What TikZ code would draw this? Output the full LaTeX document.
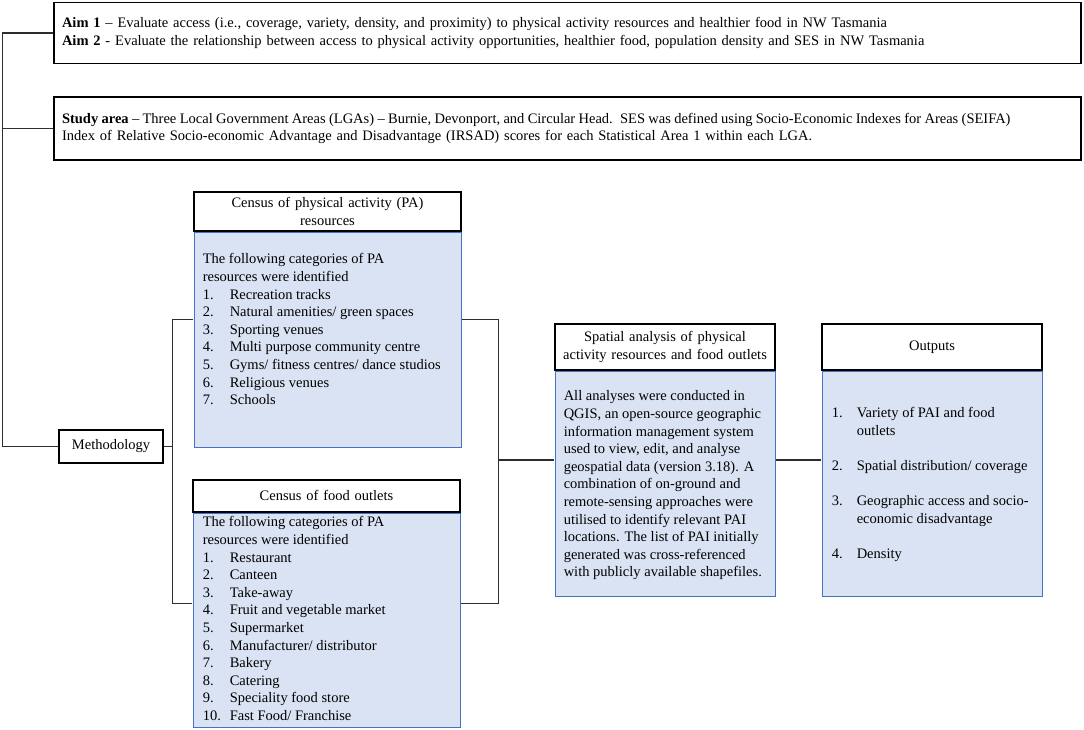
\documentclass[tikz,border=0pt]{standalone}
\usepackage{fontspec}
\setmainfont{Liberation Serif}
\usetikzlibrary{positioning,calc}

\definecolor{bodyfill}{RGB}{218,227,243}
\definecolor{bodyline}{RGB}{68,114,196}
\definecolor{linkgray}{RGB}{45,45,45}

\newcommand*{\itm}[2]{\makebox[27pt][l]{#1}#2}
\newcommand*{\oitm}[2]{\makebox[25pt][l]{#1}#2}

\begin{document}
\begin{tikzpicture}
[
	x=1pt,
	y=-1pt,
	every node/.style={font=\fontsize{14.5}{17.6}\selectfont},
	widebox/.style={draw,line width=1.3pt,fill=white,align=left,text width=1011pt,inner xsep=8pt},
	headbox/.style={draw,line width=1.3pt,fill=white,align=center,inner xsep=4pt},
	bodybox/.style={draw=bodyline,fill=bodyfill,line width=0.9pt},
	bodytext/.style={align=left,inner sep=0pt,anchor=north west},
	methbox/.style={draw,line width=1.3pt,fill=white,minimum width=104pt,minimum height=33pt,inner sep=2pt},
	link/.style={line width=1.3pt,draw=linkgray}
]

	\useasboundingbox (0,0) rectangle (1084,730);

	% aims and study area
	\node[widebox,minimum height=61pt] (aims) at (567.5,33)
	  {\textbf{Aim 1} – Evaluate access (i.e., coverage, variety, density, and proximity) to physical activity resources and healthier food in NW Tasmania\\
	   \textbf{Aim 2} - Evaluate the relationship between access to physical activity opportunities, healthier food, population density and SES in NW Tasmania};
	\node[widebox,minimum height=63pt] (study) at (567.5,128.5)
	  {{\spaceskip=0.23em plus 0.1em\relax\textbf{Study area} – Three Local Government Areas (LGAs) – Burnie, Devonport, and Circular Head. SES was defined using Socio-Economic Indexes for Areas (SEIFA)}\\
	   Index of Relative Socio-economic Advantage and Disadvantage (IRSAD) scores for each Statistical Area 1 within each LGA.};

	\node[methbox] (meth) at (111,446.5) {Methodology};

	% census boxes
	\node[bodybox,minimum width=267pt,minimum height=215pt] (pabody) at (327.5,339.5) {};
	\node[headbox,text width=259pt,minimum height=39pt,above=0pt of pabody] (pahead)
	  {Census of physical activity (PA)\\resources};
	\node[bodytext,below right=22pt and 9pt of pabody.north west] (patext)
	  {The following categories of PA\\
	   resources were identified\\
	   \itm{1.}{Recreation tracks}\\
	   \itm{2.}{Natural amenities/ green spaces}\\
	   \itm{3.}{Sporting venues}\\
	   \itm{4.}{Multi purpose community centre}\\
	   \itm{5.}{Gyms/ fitness centres/ dance studios}\\
	   \itm{6.}{Religious venues}\\
	   \itm{7.}{Schools}};

	\node[bodybox,minimum width=267pt,minimum height=214pt] (fdbody) at (326.5,620) {};
	\node[headbox,text width=259pt,minimum height=32pt,above=0pt of fdbody] (fdhead)
	  {Census of food outlets};
	\node[bodytext,below right=4pt and 10pt of fdbody.north west] (fdtext)
	  {The following categories of PA\\
	   resources were identified\\
	   \itm{1.}{Restaurant}\\
	   \itm{2.}{Canteen}\\
	   \itm{3.}{Take-away}\\
	   \itm{4.}{Fruit and vegetable market}\\
	   \itm{5.}{Supermarket}\\
	   \itm{6.}{Manufacturer/ distributor}\\
	   \itm{7.}{Bakery}\\
	   \itm{8.}{Catering}\\
	   \itm{9.}{Speciality food store}\\
	   \itm{10.}{Fast Food/ Franchise}};

	% analysis and outputs
	\node[bodybox,minimum width=220pt,minimum height=225pt] (spbody) at (665,483.5) {};
	\node[headbox,text width=212pt,minimum height=46pt,above=0pt of spbody] (sphead)
	  {Spatial analysis of physical\\activity resources and food outlets};
	\node[bodytext,below right=20pt and 9pt of spbody.north west] (sptext)
	  {All analyses were conducted in\\
	   QGIS, an open-source geographic\\
	   information management system\\
	   used to view, edit, and analyse\\
	   geospatial data (version 3.18). A\\
	   combination of on-ground and\\
	   remote-sensing approaches were\\
	   utilised to identify relevant PAI\\
	   locations. The list of PAI initially\\
	   generated was cross-referenced\\
	   with publicly available shapefiles.};

	\node[bodybox,minimum width=220pt,minimum height=225pt] (outbody) at (932,483.5) {};
	\node[headbox,text width=212pt,minimum height=46pt,above=0pt of outbody] (outhead)
	  {Outputs};
	\node[bodytext,below right=37pt and 10pt of outbody.north west] (outtext)
	  {\oitm{1.}{Variety of PAI and food}\\
	   \oitm{}{outlets}\\[17.6pt]
	   \oitm{2.}{Spatial distribution/ coverage}\\[17.6pt]
	   \oitm{3.}{Geographic access and socio-}\\
	   \oitm{}{economic disadvantage}\\[17.6pt]
	   \oitm{4.}{Density}};

	% connectors
	\coordinate (pal) at ($(pahead.north west)!0.5!(pabody.south west)$);
	\coordinate (par) at ($(pahead.north east)!0.5!(pabody.south east)$);
	\coordinate (fdl) at ($(fdhead.north west)!0.5!(fdbody.south west)$);
	\coordinate (fdr) at ($(fdhead.north east)!0.5!(fdbody.south east)$);
	\coordinate (spl) at ($(sphead.north west)!0.5!(spbody.south west)$);
	\coordinate (spr) at ($(sphead.north east)!0.5!(spbody.south east)$);
	\coordinate (outl) at ($(outhead.north west)!0.5!(outbody.south west)$);

	\draw[link] (aims.west) -- ++(-51,0) coordinate (trunk) |- (meth.west);
	\draw[link] (study.west) -- (study.west -| trunk);
	\draw[link] (pal) -- ++(-21,0) coordinate (lsplit) |- (fdl);
	\draw[link] (meth.east) -- (meth.east -| lsplit);
	\draw[link] (par) -- ++(37,0) coordinate (rsplit) |- (fdr);
	\draw[link] (spl) -- (spl -| rsplit);
	\draw[link] (spr) -- (outl);

\end{tikzpicture}
\end{document}
